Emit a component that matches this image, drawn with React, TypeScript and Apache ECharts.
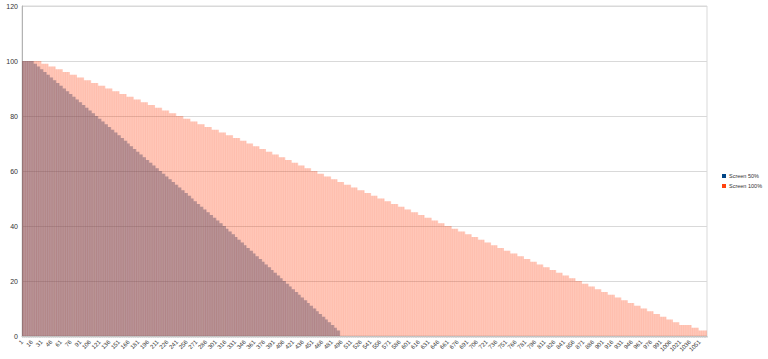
import React, { useEffect, useRef } from "react";
import * as echarts from "echarts";

// [value, number of consecutive categories]
const screen50Runs: [number, number][] = [
  [100, 18],
  [99, 5], [98, 5], [97, 5], [96, 5], [95, 5], [94, 5], [93, 5], [92, 5], [91, 5], [90, 5],
  [89, 5], [88, 5], [87, 5], [86, 5], [85, 5], [84, 5], [83, 5], [82, 5], [81, 5], [80, 5],
  [79, 5], [78, 5], [77, 5], [76, 5], [75, 5], [74, 5], [73, 5], [72, 5], [71, 5], [70, 4],
  [69, 5], [68, 5], [67, 5], [66, 5], [65, 5], [64, 5], [63, 5], [62, 5], [61, 5], [60, 5],
  [59, 5], [58, 5], [57, 5], [56, 5], [55, 5], [54, 5], [53, 5], [52, 5], [51, 5], [50, 4],
  [49, 5], [48, 5], [47, 5], [46, 5], [45, 5], [44, 5], [43, 5], [42, 5],
  [41, 5], [40, 5], [39, 4], [38, 5], [37, 5], [36, 4], [35, 5], [34, 5], [33, 4], [32, 5],
  [31, 5], [30, 4], [29, 5], [28, 5], [27, 4], [26, 5], [25, 5], [24, 4], [23, 5], [22, 5],
  [21, 4], [20, 5], [19, 5], [18, 4], [17, 5], [16, 5], [15, 4], [14, 5], [13, 5], [12, 4],
  [11, 5], [10, 5], [9, 4], [8, 5], [7, 5], [6, 4], [5, 5], [4, 5], [3, 4], [2, 5],
];

const screen100Runs: [number, number][] = [
  [100, 30],
  [99, 11], [98, 11], [97, 11], [96, 11], [95, 11], [94, 11], [93, 11], [92, 11], [91, 11], [90, 11],
  [89, 11], [88, 11], [87, 11], [86, 11], [85, 11], [84, 11], [83, 11], [82, 11], [81, 11], [80, 11],
  [79, 11], [78, 11], [77, 11], [76, 11], [75, 11], [74, 11], [73, 11], [72, 11],
  [71, 10], [70, 10], [69, 10], [68, 10], [67, 10], [66, 10], [65, 10], [64, 10], [63, 10], [62, 10],
  [61, 10], [60, 10],
  [59, 10], [58, 11], [57, 10], [56, 10], [55, 11], [54, 10], [53, 11], [52, 10], [51, 10], [50, 11],
  [49, 10], [48, 11], [47, 10], [46, 10], [45, 11], [44, 10], [43, 11], [42, 10], [41, 10], [40, 11],
  [39, 10], [38, 11], [37, 10], [36, 10],
  [35, 10], [34, 10], [33, 10], [32, 10], [31, 10], [30, 11], [29, 10], [28, 10], [27, 10], [26, 10],
  [25, 10], [24, 10], [23, 10], [22, 10], [21, 10], [20, 10], [19, 10], [18, 10], [17, 10], [16, 10],
  [15, 11], [14, 10], [13, 10], [12, 10], [11, 10], [10, 10], [9, 10], [8, 10], [7, 10], [6, 10],
  [5, 10], [4, 19], [3, 11], [2, 13],
];

const seriesNames = ["Screen 50%", "Screen 100%"];
const yTicks = [0, 20, 40, 60, 80, 100, 120];

function expandRuns(runs: [number, number][]): number[] {
  const out: number[] = [];
  runs.forEach(([v, n]) => {
    for (let i = 0; i < n; i++) out.push(v);
  });
  return out;
}

export default function App() {
  const ref = useRef<HTMLDivElement>(null);

  useEffect(() => {
    if (!ref.current) return;
    const chart = echarts.init(ref.current, null, { renderer: "svg" });
    const s50 = expandRuns(screen50Runs);
    const s100 = expandRuns(screen100Runs);
    const n = Math.max(s50.length, s100.length);
    const categories = Array.from({ length: n }, (_, i) => String(i + 1));

    chart.setOption({
      animation: false,
      grid: { left: 22, right: 61, top: 6, bottom: 23, show: true, borderColor: "#d9d9d9", borderWidth: 1 },
      legend: {
        orient: "vertical",
        left: 722,
        top: 173,
        itemWidth: 4,
        itemHeight: 4,
        itemGap: 4,
        icon: "rect",
        padding: 0,
        textStyle: { fontSize: 5.5, color: "#333", fontFamily: "Liberation Sans", padding: [0, 0, 0, -2] },
        data: [
          { name: seriesNames[0], itemStyle: { opacity: 1 } },
          { name: seriesNames[1], itemStyle: { opacity: 1 } },
        ],
      },
      xAxis: {
        type: "category",
        data: categories,
        boundaryGap: true,
        axisLine: { lineStyle: { color: "#b3b3b3" } },
        axisTick: { show: true, interval: 0, length: 2, lineStyle: { color: "#cccccc", width: 0.5 } },
        axisLabel: {
          interval: 14,
          rotate: 45,
          fontSize: 6,
          color: "#333",
          fontFamily: "Liberation Sans",
          margin: 5,
        },
        splitLine: { show: false },
      },
      yAxis: {
        type: "value",
        min: yTicks[0],
        max: yTicks[yTicks.length - 1],
        interval: 20,
        axisLine: { show: true, lineStyle: { color: "#b3b3b3" } },
        axisTick: { show: false },
        axisLabel: { fontSize: 7, color: "#333", fontFamily: "Liberation Sans", margin: 4 },
        splitLine: { show: true, lineStyle: { color: "#d9d9d9", width: 1 } },
      },
      series: [
        {
          name: seriesNames[0],
          type: "bar",
          data: s50,
          barGap: "-100%",
          barCategoryGap: "30%",
          itemStyle: { color: "#004586", opacity: 0.3 },
          emphasis: { disabled: true },
        },
        {
          name: seriesNames[1],
          type: "bar",
          data: s100,
          barGap: "-100%",
          barCategoryGap: "30%",
          itemStyle: { color: "#ff420e", opacity: 0.22 },
          emphasis: { disabled: true },
        },
      ],
    });
    return () => chart.dispose();
  }, []);

  return <div ref={ref} style={{ width: 768, height: 359, position: "absolute", left: 0, top: 0 }} />;
}
